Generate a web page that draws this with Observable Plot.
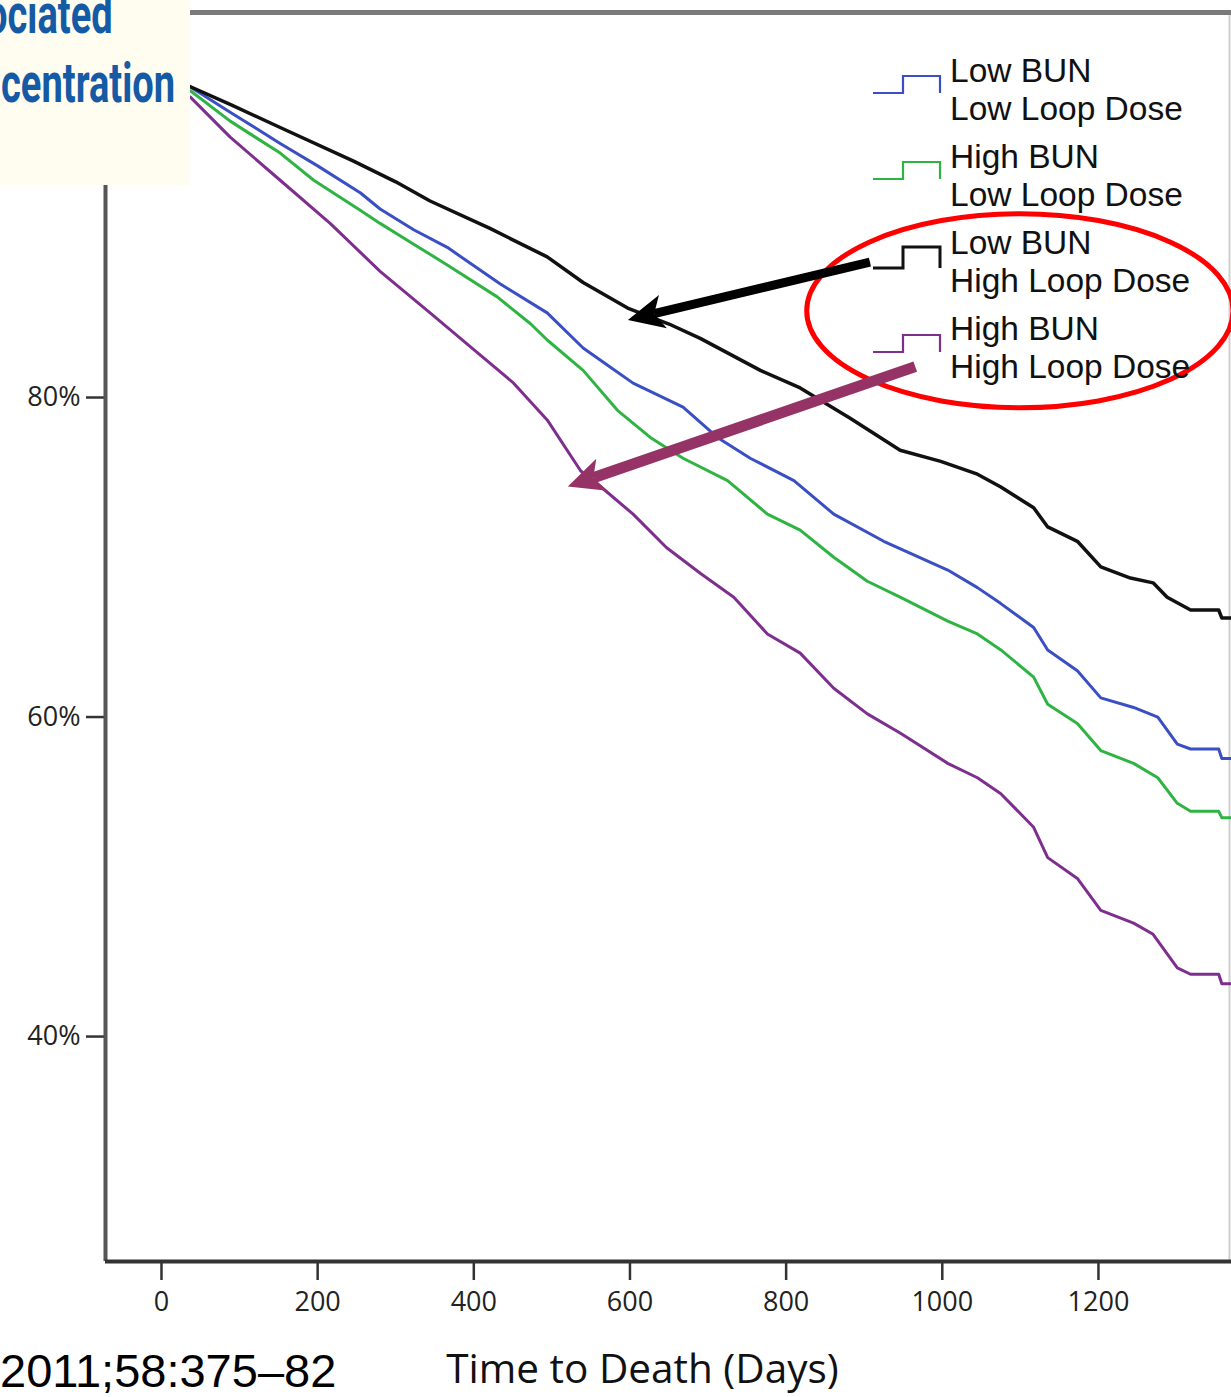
<!DOCTYPE html>
<html>
<head>
<meta charset="utf-8">
<script src="https://cdn.jsdelivr.net/npm/d3@7"></script>
<script src="https://cdn.jsdelivr.net/npm/@observablehq/plot@0.6"></script>
<style>
  body { margin: 0; background: #fff; }
  #wrap { position: relative; width: 1231px; height: 1397px; overflow: hidden; background: #fff; }
  #titlebox { position: absolute; left: 0; top: 0; width: 190px; height: 185px; background: #fffdf0; overflow: hidden; }
  .tline { position: absolute; font-family: Roboto, sans-serif; font-weight: 700; font-size: 56px; color: #155aa5; transform: scaleX(0.68); transform-origin: 0 0; white-space: nowrap; line-height: 1; }
  #legend { position: absolute; left: 870px; top: 0; font-family: "Liberation Sans", Arial, sans-serif; font-size: 33.5px; color: #111; }
  .item { position: absolute; left: 0; width: 360px; height: 80px; }
  .item svg { position: absolute; left: 0; top: 0; }
  .item .lbl { position: absolute; left: 80px; height: 38px; line-height: 38px; white-space: nowrap; }
  #cite { position: absolute; left: 0; top: 1347px; font-family: "Liberation Sans", Arial, sans-serif; font-size: 47px; line-height: 1; color: #000; white-space: nowrap; }
</style>
</head>
<body>
<div id="wrap"></div>
<script>
// ---- data ----
const xTicks = [0, 200, 400, 600, 800, 1000, 1200];
const yTicks = [40, 60, 80];
const xLabel = "Time to Death (Days)";
const titleLines = ["ociated", "centration"];
const citation = "2011;58:375–82";

const seriesNames = [
  ["Low BUN", "Low Loop Dose"],
  ["High BUN", "Low Loop Dose"],
  ["Low BUN", "High Loop Dose"],
  ["High BUN", "High Loop Dose"]
];
const seriesColors = ["#3a4fc4", "#2fb443", "#111111", "#7e2f8e"];
const seriesWidths = [3, 3, 3.5, 3];

const lowBunLowDose = [[0,100],[35,99.5],[90,97.8],[152,95.9],[200,94.5],[255,92.8],[280,91.8],[323,90.5],[366,89.4],[434,87.1],[494,85.3],[540,83.1],[575,81.9],[604,80.9],[668,79.4],[712,77.5],[754,76.2],[810,74.8],[861,72.7],[925,71.0],[1007,69.2],[1045,68.1],[1075,67.1],[1117,65.6],[1135,64.2],[1173,62.9],[1203,61.2],[1245,60.6],[1276,60.0],[1301,58.3],[1318,58.0],[1354,58.0],[1358,57.4],[1370,57.4]];
const highBunLowDose = [[0,100],[37,99.2],[88,97.3],[152,95.3],[195,93.6],[255,91.7],[280,90.9],[323,89.6],[366,88.3],[430,86.3],[473,84.6],[494,83.6],[540,81.7],[584,79.2],[626,77.5],[668,76.2],[725,74.8],[776,72.7],[818,71.7],[861,70.0],[904,68.5],[946,67.5],[1007,66.0],[1045,65.2],[1075,64.2],[1117,62.5],[1135,60.8],[1173,59.6],[1203,57.9],[1245,57.1],[1276,56.2],[1301,54.6],[1318,54.1],[1354,54.1],[1358,53.7],[1370,53.7]];
const lowBunHighDose = [[0,100],[35,99.5],[90,98.3],[152,96.9],[246,94.8],[300,93.5],[344,92.3],[420,90.6],[494,88.8],[540,87.2],[597,85.6],[650,84.6],[690,83.7],[767,81.7],[818,80.6],[882,78.7],[946,76.7],[998,76.0],[1045,75.2],[1075,74.4],[1117,73.1],[1135,71.9],[1173,71.0],[1203,69.4],[1241,68.7],[1270,68.4],[1288,67.5],[1318,66.7],[1354,66.7],[1358,66.2],[1370,66.2]];
const highBunHighDose = [[0,100],[37,98.8],[88,96.3],[152,93.6],[216,90.9],[280,87.9],[344,85.3],[400,83.0],[451,80.9],[494,78.6],[537,75.4],[563,74.4],[604,72.7],[647,70.6],[690,69.0],[733,67.5],[776,65.2],[818,64.0],[861,61.8],[904,60.2],[946,59.0],[1007,57.1],[1045,56.2],[1075,55.2],[1117,53.1],[1135,51.2],[1173,49.9],[1203,47.9],[1245,47.1],[1270,46.4],[1301,44.3],[1318,43.9],[1354,43.9],[1358,43.3],[1370,43.3]];
const seriesData = [lowBunLowDose, highBunLowDose, lowBunHighDose, highBunHighDose];

// annotations in data units (days, %)
const arrowsAnno = [
  {x1: 908, y1: 88.45, x2: 598, y2: 84.82, color: "#000000", w: 9, hl: 36, hw: 17},
  {x1: 966, y1: 81.9, x2: 521, y2: 74.4, color: "#963366", w: 11, hl: 36, hw: 17}
];
const ellipseAnno = {cx: 1100, cy: 85.4, rx: 273, ry: 6.07, color: "#ff0000", w: 5};

const xDomain = [-71.7, 1370.4];
const yDomain = [25.92, 104.1];

// ---- plot ----
const lineMarks = seriesData.map((d, i) =>
  Plot.line(d, {x: d => d[0], y: d => d[1], stroke: seriesColors[i], strokeWidth: seriesWidths[i], strokeLinejoin: "round"})
);

const plot = Plot.plot({
  width: 1231,
  height: 1397,
  marginLeft: 105,
  marginRight: 0,
  marginTop: 12,
  marginBottom: 136,
  x: {domain: xDomain},
  y: {domain: yDomain},
  style: {fontFamily: "'Open Sans', sans-serif", background: "white", color: "#222", overflow: "visible"},
  marks: [
    Plot.ruleX([xDomain[1]], {stroke: "#cfcfcf", strokeWidth: 2, dx: -2}),
    ...lineMarks,
    Plot.ruleY([yDomain[1]], {stroke: "#7a7a7a", strokeWidth: 5}),
    Plot.axisY({ticks: yTicks, tickSize: 19, tickPadding: 6, tickFormat: d => d + "%", fontSize: 27, strokeWidth: 2.5, stroke: "#333", label: null}),
    Plot.axisX({ticks: xTicks, tickSize: 19, tickPadding: 11, tickFormat: d => String(d), fontSize: 27, strokeWidth: 2.5, stroke: "#333", label: null}),
    Plot.ruleX([xDomain[0]], {stroke: "#555", strokeWidth: 4}),
    Plot.ruleY([yDomain[0]], {stroke: "#333", strokeWidth: 4}),
    Plot.text([xLabel], {text: d => d, frameAnchor: "bottom", dy: 121, dx: -26, fontSize: 40.5, fill: "#111"})
  ]
});

const wrap = document.getElementById("wrap");
wrap.appendChild(plot);

// ---- annotations drawn through the plot's scales ----
const sx = plot.scale("x"), sy = plot.scale("y");
const NS = "http://www.w3.org/2000/svg";
const g = document.createElementNS(NS, "g");
plot.appendChild(g);

{
  const e = ellipseAnno;
  const cx = sx.apply(e.cx), cy = sy.apply(e.cy);
  const rx = sx.apply(e.cx + e.rx) - cx, ry = cy - sy.apply(e.cy + e.ry);
  const el = document.createElementNS(NS, "ellipse");
  el.setAttribute("cx", cx); el.setAttribute("cy", cy);
  el.setAttribute("rx", rx); el.setAttribute("ry", ry);
  el.setAttribute("fill", "none"); el.setAttribute("stroke", e.color); el.setAttribute("stroke-width", e.w);
  g.appendChild(el);
}
for (const a of arrowsAnno) {
  const x1 = sx.apply(a.x1), y1 = sy.apply(a.y1), x2 = sx.apply(a.x2), y2 = sy.apply(a.y2);
  const len = Math.hypot(x2 - x1, y2 - y1);
  const ux = (x2 - x1) / len, uy = (y2 - y1) / len;
  const nx = -uy, ny = ux;
  const bx = x2 - ux * a.hl, by = y2 - uy * a.hl;
  const kx = x2 - ux * a.hl * 0.75, ky = y2 - uy * a.hl * 0.75;
  const line = document.createElementNS(NS, "line");
  line.setAttribute("x1", x1); line.setAttribute("y1", y1);
  line.setAttribute("x2", kx); line.setAttribute("y2", ky);
  line.setAttribute("stroke", a.color); line.setAttribute("stroke-width", a.w);
  g.appendChild(line);
  const head = document.createElementNS(NS, "polygon");
  head.setAttribute("points", [
    [x2, y2], [bx + nx * a.hw, by + ny * a.hw], [kx, ky], [bx - nx * a.hw, by - ny * a.hw]
  ].map(p => p.join(",")).join(" "));
  head.setAttribute("fill", a.color);
  g.appendChild(head);
}

// ---- title fragment box ----
const tb = document.createElement("div");
tb.id = "titlebox";
titleLines.forEach((t, i) => {
  const s = document.createElement("div");
  s.className = "tline";
  s.textContent = t;
  s.style.top = (i === 0 ? -14 : 55) + "px";
  s.style.left = (i === 0 ? -14 : 1) + "px";
  tb.appendChild(s);
});
wrap.appendChild(tb);

// ---- legend ----
const lg = document.createElement("div");
lg.id = "legend";
const iconLows = [41, 41, 44, 42], iconHighs = [24, 24, 23, 25];
seriesNames.forEach((lines, i) => {
  const it = document.createElement("div");
  it.className = "item";
  it.style.top = (52 + 86 * i) + "px";
  const lo = iconLows[i], hi = iconHighs[i];
  it.innerHTML = `<svg width="80" height="80"><path d="M3,${lo}H33V${hi}H70V${lo}" fill="none" stroke="${seriesColors[i]}" stroke-width="${i === 2 ? 3 : 2.2}"/></svg>` +
    `<div class="lbl" style="top:0px">${lines[0]}</div><div class="lbl" style="top:38px">${lines[1]}</div>`;
  lg.appendChild(it);
});
wrap.appendChild(lg);

// ---- citation ----
const c = document.createElement("div");
c.id = "cite";
c.textContent = citation;
wrap.appendChild(c);
</script>
</body>
</html>
